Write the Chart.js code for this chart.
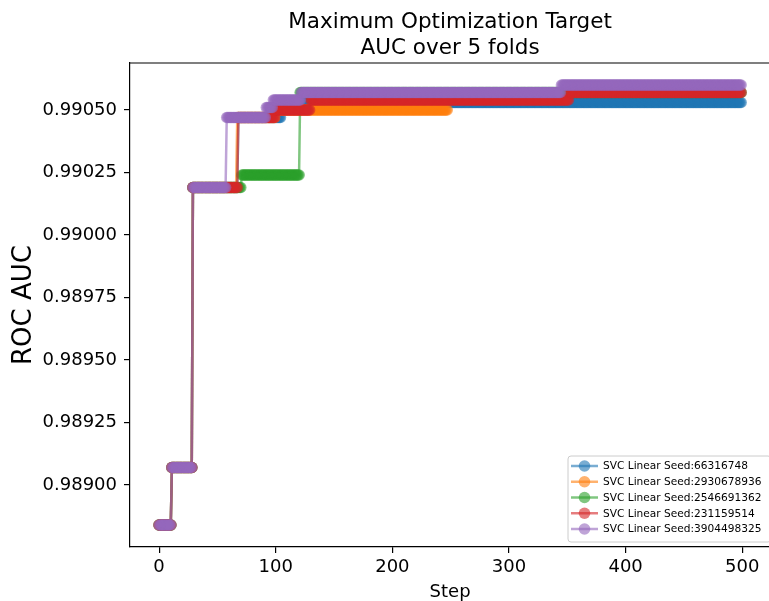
<!DOCTYPE html>
<html><head><meta charset="utf-8">
<script src="https://cdn.jsdelivr.net/npm/chart.js@4/dist/chart.umd.min.js"></script>
<style>html,body{margin:0;padding:0;overflow:hidden;background:#fff;width:769px;height:601px}canvas{display:block}</style>
</head><body>
<canvas id="c" width="776" height="601"></canvas>
<script>
// ---- data ----
const chartTitle = ['Maximum Optimization Target', 'AUC over 5 folds'];
const xAxisLabel = 'Step';
const yAxisLabel = 'ROC AUC';
const seriesNames = [
  'SVC Linear Seed:66316748',
  'SVC Linear Seed:2930678936',
  'SVC Linear Seed:2546691362',
  'SVC Linear Seed:231159514',
  'SVC Linear Seed:3904498325'
];
const seriesColors = ['31,119,180', '255,127,14', '44,160,44', '214,39,40', '148,103,189'];
const seriesStepCounts = [500, 248, 500, 500, 500];
// best-so-far value changes: step where a new best is reached, and that value
const blueChangeSteps   = [0, 11, 29, 68, 105];
const blueChangeValues  = [0.98884, 0.98907, 0.99019, 0.99047, 0.99053];
const orangeChangeSteps  = [0, 11, 29, 67, 100];
const orangeChangeValues = [0.98884, 0.98907, 0.99019, 0.99047, 0.99050];
const greenChangeSteps   = [0, 11, 29, 71, 121];
const greenChangeValues  = [0.98884, 0.98907, 0.99019, 0.99024, 0.99057];
const redChangeSteps     = [0, 11, 29, 68, 100, 130, 352];
const redChangeValues    = [0.98884, 0.98907, 0.99019, 0.99047, 0.99050, 0.99054, 0.99057];
const purpleChangeSteps  = [0, 11, 29, 58, 92, 98, 122, 345];
const purpleChangeValues = [0.98884, 0.98907, 0.99019, 0.99047, 0.99051, 0.99054, 0.99057, 0.99060];
const xTicks = [0, 100, 200, 300, 400, 500];
const yTicks = [0.98900, 0.98925, 0.98950, 0.98975, 0.99000, 0.99025, 0.99050];

const changeSteps = [blueChangeSteps, orangeChangeSteps, greenChangeSteps, redChangeSteps, purpleChangeSteps];
const changeValues = [blueChangeValues, orangeChangeValues, greenChangeValues, redChangeValues, purpleChangeValues];

function bestSoFar(steps, values, count) {
  const pts = [];
  let k = 0;
  for (let s = 0; s < count; s++) {
    while (k + 1 < steps.length && steps[k + 1] <= s) k++;
    pts.push({x: s, y: values[k]});
  }
  return pts;
}

const FONT = "'DejaVu Sans', sans-serif";
Chart.defaults.font.family = FONT;
Chart.defaults.color = '#000';

const datasets = seriesNames.map((name, i) => ({
  label: name,
  data: bestSoFar(changeSteps[i], changeValues[i], seriesStepCounts[i]),
  borderColor: 'rgba(' + seriesColors[i] + ',0.6)',
  backgroundColor: 'rgba(' + seriesColors[i] + ',0.6)',
  pointBackgroundColor: 'rgba(' + seriesColors[i] + ',0.6)',
  pointBorderWidth: 0,
  pointRadius: 5.8,
  borderWidth: 2.5,
  fill: false,
  tension: 0,
  order: seriesNames.length - i
}));

const framePlugin = {
  id: 'frame',
  afterDatasetsDraw(chart) {
    const {ctx, chartArea: a} = chart;
    ctx.save();
    ctx.strokeStyle = '#000';
    ctx.lineWidth = 1.2;
    ctx.beginPath();
    ctx.moveTo(a.left, a.top);
    ctx.lineTo(a.right, a.top);
    ctx.lineTo(a.right, a.bottom);
    ctx.stroke();
    ctx.restore();
  },
  afterDraw(chart) {
    const {ctx, chartArea: a} = chart;
    ctx.save();
    // title
    ctx.fillStyle = '#000';
    ctx.font = '21.5px ' + FONT;
    ctx.textAlign = 'center';
    ctx.textBaseline = 'alphabetic';
    const cx = (a.left + a.right) / 2;
    ctx.fillText(chartTitle[0], cx, 28);
    ctx.fillText(chartTitle[1], cx, 54);
    // legend
    const bx = 568, by = 456, bw = 203, bh = 86, r = 3;
    ctx.beginPath();
    ctx.moveTo(bx + r, by);
    ctx.lineTo(bx + bw - r, by);
    ctx.quadraticCurveTo(bx + bw, by, bx + bw, by + r);
    ctx.lineTo(bx + bw, by + bh - r);
    ctx.quadraticCurveTo(bx + bw, by + bh, bx + bw - r, by + bh);
    ctx.lineTo(bx + r, by + bh);
    ctx.quadraticCurveTo(bx, by + bh, bx, by + bh - r);
    ctx.lineTo(bx, by + r);
    ctx.quadraticCurveTo(bx, by, bx + r, by);
    ctx.closePath();
    ctx.fillStyle = 'rgba(255,255,255,0.8)';
    ctx.fill();
    ctx.strokeStyle = '#cccccc';
    ctx.lineWidth = 1;
    ctx.stroke();
    ctx.font = '10.6px ' + FONT;
    ctx.textAlign = 'left';
    ctx.textBaseline = 'middle';
    seriesNames.forEach((name, i) => {
      const y = 466 + i * 15.75;
      const col = 'rgba(' + seriesColors[i] + ',0.6)';
      ctx.strokeStyle = col;
      ctx.lineWidth = 2.5;
      ctx.beginPath();
      ctx.moveTo(571, y);
      ctx.lineTo(598, y);
      ctx.stroke();
      ctx.fillStyle = col;
      ctx.beginPath();
      ctx.arc(584.5, y, 5.8, 0, Math.PI * 2);
      ctx.fill();
      ctx.fillStyle = '#000';
      ctx.fillText(name, 603, y + 0.5);
    });
    ctx.restore();
  }
};

new Chart(document.getElementById('c'), {
  type: 'line',
  data: {datasets},
  options: {
    responsive: false,
    animation: false,
    events: [],
    layout: {padding: {top: 63, left: 0, right: 0, bottom: 0}},
    plugins: {legend: {display: false}, title: {display: false}, tooltip: {enabled: false}},
    scales: {
      x: {
        type: 'linear',
        min: -24.95,
        max: 523.95,
        afterFit: s => { s.height = 54; },
        afterBuildTicks: s => { s.ticks = xTicks.map(v => ({value: v})); },
        grid: {display: true, drawOnChartArea: false, drawTicks: true, tickLength: 6, color: '#000', lineWidth: 1.2},
        border: {display: true, color: '#000', width: 1.2},
        ticks: {font: {size: 18}, color: '#000', padding: 4, maxRotation: 0, autoSkip: false, callback: v => String(v)},
        title: {display: true, text: xAxisLabel, font: {size: 18, lineHeight: 1}, color: '#000', padding: {top: 0, bottom: 0}}
      },
      y: {
        type: 'linear',
        min: 0.988752,
        max: 0.990688,
        afterFit: s => { s.width = 130; },
        afterBuildTicks: s => { s.ticks = yTicks.map(v => ({value: v})); },
        grid: {display: true, drawOnChartArea: false, drawTicks: true, tickLength: 6, color: '#000', lineWidth: 1.2},
        border: {display: true, color: '#000', width: 1.2},
        ticks: {font: {size: 18}, color: '#000', padding: 7, autoSkip: false, callback: v => Number(v).toFixed(5)},
        title: {display: true, text: yAxisLabel, font: {size: 26}, color: '#000', padding: {top: 9, bottom: 0}}
      }
    }
  },
  plugins: [framePlugin]
});
</script>
</body></html>
